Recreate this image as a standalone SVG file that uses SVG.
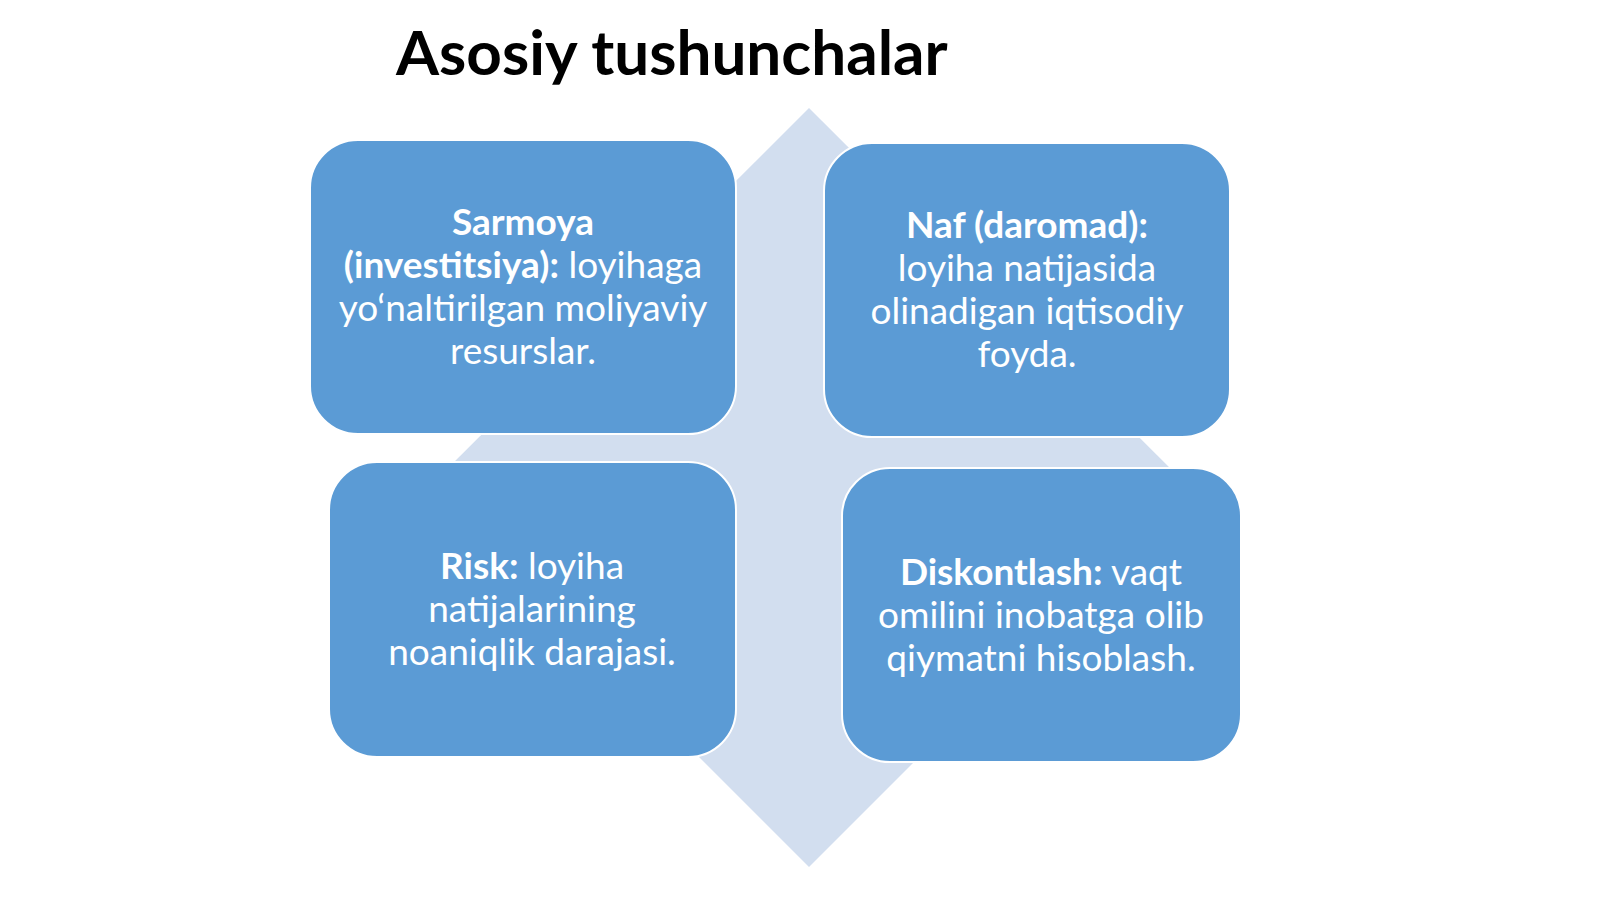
<svg xmlns="http://www.w3.org/2000/svg" width="1600" height="899" viewBox="0 0 1600 899">
<style>
.box{fill:#5B9BD5;stroke:#FFFFFF;stroke-width:2}
.t{font-family:Lato,"Open Sans","Liberation Sans",sans-serif;font-size:37px;fill:#FFFFFF;text-anchor:middle}
.b{font-weight:bold}
.title{font-family:Lato,"Open Sans","Liberation Sans",sans-serif;font-size:62px;font-weight:bold;fill:#000000}
</style>
<rect x="0" y="0" width="1600" height="899" fill="#FFFFFF"/>
<text class="title" x="396" y="75">Asosiy tushunchalar</text>
<g id="background">
<polygon points="809,108 1189,487 809,867 429,487" fill="#D2DEEF"/>
</g>
<g id="connectors"></g>
<g id="node1">
<rect class="box" x="310" y="140" width="426" height="294" rx="48" ry="48"/>
<text class="t" x="523" y="235"><tspan class="b">Sarmoya</tspan></text>
<text class="t" x="523" y="278"><tspan class="b">(investitsiya):</tspan> loyihaga</text>
<text class="t" x="523" y="321">yo‘naltirilgan moliyaviy</text>
<text class="t" x="523" y="364">resurslar.</text>
</g>
<g id="node2">
<rect class="box" x="824" y="143" width="406" height="294" rx="48" ry="48"/>
<text class="t" x="1027" y="238"><tspan class="b">Naf (daromad):</tspan></text>
<text class="t" x="1027" y="281">loyiha natijasida</text>
<text class="t" x="1027" y="324">olinadigan iqtisodiy</text>
<text class="t" x="1027" y="367">foyda.</text>
</g>
<g id="node3">
<rect class="box" x="329" y="462" width="407" height="295" rx="48" ry="48"/>
<text class="t" x="532" y="579"><tspan class="b">Risk:</tspan> loyiha</text>
<text class="t" x="532" y="622">natijalarining</text>
<text class="t" x="532" y="665">noaniqlik darajasi.</text>
</g>
<g id="node4">
<rect class="box" x="842" y="468" width="399" height="294" rx="48" ry="48"/>
<text class="t" x="1041" y="585"><tspan class="b">Diskontlash:</tspan> vaqt</text>
<text class="t" x="1041" y="628">omilini inobatga olib</text>
<text class="t" x="1041" y="671">qiymatni hisoblash.</text>
</g>
</svg>
